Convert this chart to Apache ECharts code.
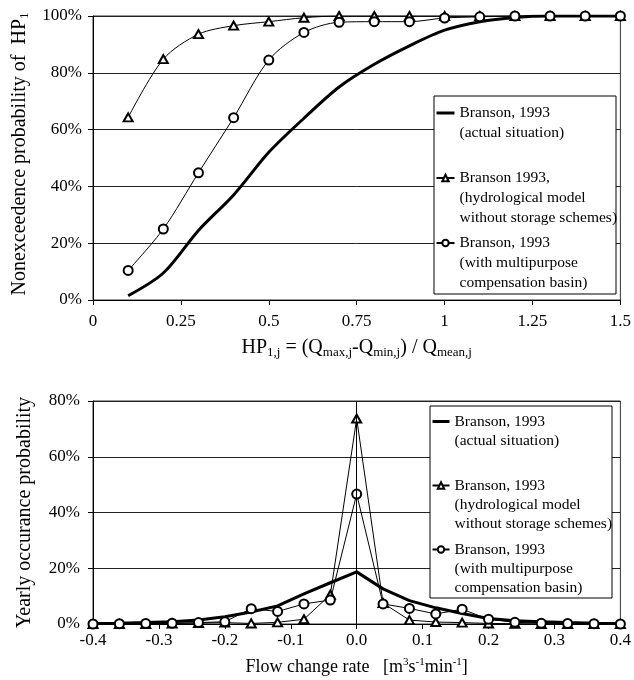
<!DOCTYPE html>
<html><head><meta charset="utf-8">
<script src="https://cdn.jsdelivr.net/npm/echarts@6/dist/echarts.min.js"></script>
<style>html,body{margin:0;padding:0;background:#fff}#c{width:634px;height:680px}</style>
</head><body><div id="c"></div>
<script>
// ---- Top chart data (HP1 nonexceedence) ----
const topX = [0.1,0.2,0.3,0.4,0.5,0.6,0.7,0.8,0.9,1.0,1.1,1.2,1.3,1.4,1.5];
const topActual = [1.5,9.5,24.5,37,52,64,75,83,89.5,95,98,99.5,100,100,100];
const topHydro  = [64.3,84.8,93.6,96.6,98,99.4,100,100,100,100,100,100,100,100,100];
const topComp   = [10.4,25,44.8,64.2,84.5,94.2,97.8,98,98,99.3,99.7,100,100,100,100];
const topXTicks = [0,0.25,0.5,0.75,1,1.25,1.5];
// ---- Bottom chart data (flow change rate) ----
const botX = [-0.4,-0.36,-0.32,-0.28,-0.24,-0.2,-0.16,-0.12,-0.08,-0.04,0,0.04,0.08,0.12,0.16,0.2,0.24,0.28,0.32,0.36,0.4];
const botActual = [0.2,0.3,0.5,0.8,1.4,2.6,4.3,6.5,10.8,14.8,18.7,12.6,8.4,5.8,3.8,2.0,1.2,0.8,0.5,0.3,0.2];
const botHydro  = [0,0,0,0.2,0.3,0.5,0.2,0.6,1.7,10.5,73.7,7.5,1.4,0.7,0.5,0.2,0.1,0,0,0,0];
const botComp   = [0,0.1,0.2,0.3,0.5,0.8,5.5,4.5,7.2,8.6,46.6,7.2,5.6,3.6,5.3,1.7,0.6,0.3,0.2,0.1,0];

const legendTop = {
  'A1':'\n\nBranson, 1993\n(actual situation)\n',
  'B1':'\n\nBranson 1993,\n(hydrological model\nwithout storage schemes)',
  'C1':'\n\nBranson, 1993\n(with multipurpose\ncompensation basin)'
};
const legendBot = {
  'A2':'\n\nBranson, 1993\n(actual situation)\n',
  'B2':'\n\nBranson, 1993\n(hydrological model\nwithout storage schemes)',
  'C2':'\n\nBranson, 1993\n(with multipurpose\ncompensation basin)'
};

const FONT = 'Liberation Serif';
const zip = (xs, ys) => xs.map((x, i) => [x, ys[i]]);

const richName = {
  n: {fontFamily: FONT, fontSize: 20, color: '#000'},
  s: {fontFamily: FONT, fontSize: 13, color: '#000', padding: [10, 0, 0, 0]},
  p: {fontFamily: FONT, fontSize: 11, color: '#000', padding: [0, 0, 9, 0]}
};
const labelStyle = {fontFamily: FONT, fontSize: 17, color: '#000'};
const hiddenSym = {opacity: 0, color: 'transparent', borderWidth: 0};

const chart = echarts.init(document.getElementById('c'), null, {renderer: 'canvas'});
const option = {
  backgroundColor: '#fff',
  animation: false,
  grid: [
    {left: 93, top: 16, width: 528, height: 284, show: true, borderColor: '#333', borderWidth: 1},
    {left: 93, top: 401, width: 528, height: 223, show: true, borderColor: '#333', borderWidth: 1}
  ],
  xAxis: [
    {gridIndex: 0, type: 'value', min: 0, max: 1.5, interval: 0.25,
     axisLine: {lineStyle: {color: '#000', width: 1}},
     axisTick: {show: true, length: 5, lineStyle: {color: '#000'}},
     axisLabel: Object.assign({margin: 13}, labelStyle),
     splitLine: {show: false},
     name: '{n|HP}{s|1,j}{n| = (Q}{s|max,j}{n|-Q}{s|min,j}{n|) / Q}{s|mean,j}',
     nameLocation: 'middle', nameGap: 36,
     nameTextStyle: {rich: richName}
    },
    {gridIndex: 1, type: 'value', min: -0.4, max: 0.4, interval: 0.1,
     axisLine: {onZero: false, lineStyle: {color: '#000', width: 1}},
     axisTick: {show: true, length: 5, lineStyle: {color: '#000'}},
     axisLabel: Object.assign({margin: 8, formatter: v => v.toFixed(1)}, labelStyle),
     splitLine: {show: false},
     name: '{m|Flow change rate   [m}{p|3}{m|s}{p|-1}{m|min}{p|-1}{m|]}',
     nameLocation: 'middle', nameGap: 33,
     nameTextStyle: {rich: Object.assign({m: {fontFamily: FONT, fontSize: 18, color: '#000'}}, richName)}
    }
  ],
  yAxis: [
    {gridIndex: 0, type: 'value', min: 0, max: 100, interval: 20,
     axisLine: {show: true, lineStyle: {color: '#000', width: 1}},
     axisTick: {show: true, length: 5, lineStyle: {color: '#000'}},
     axisLabel: Object.assign({margin: 11, formatter: '{value}%'}, labelStyle),
     splitLine: {show: true, lineStyle: {color: '#222', width: 1}},
     name: '{n|Nonexceedence probability of  HP}{s|1}',
     nameLocation: 'middle', nameGap: 59, nameRotate: 90,
     nameTextStyle: {rich: richName, padding: [0, 0, 0, 8]}
    },
    {gridIndex: 1, type: 'value', min: 0, max: 80, interval: 20,
     axisLine: {show: true, onZero: false, lineStyle: {color: '#000', width: 1}},
     axisTick: {show: true, length: 5, lineStyle: {color: '#000'}},
     axisLabel: Object.assign({margin: 13, formatter: '{value}%'}, labelStyle),
     splitLine: {show: true, lineStyle: {color: '#222', width: 1}},
     name: 'Yearly occurance probability',
     nameLocation: 'middle', nameGap: 58, nameRotate: 90,
     nameTextStyle: {fontFamily: FONT, fontSize: 20, color: '#000'}
    }
  ],
  graphic: [
    {type: 'rect', z: 50, shape: {x: 434, y: 96, width: 182, height: 198},
     style: {fill: '#fff', stroke: '#000', lineWidth: 1}},
    {type: 'rect', z: 50, shape: {x: 430, y: 406, width: 182, height: 192},
     style: {fill: '#fff', stroke: '#000', lineWidth: 1}}
  ],
  legend: [
    {data: [{name: 'A1', itemStyle: hiddenSym, lineStyle: {width: 3, color: '#000'}}, 'B1', 'C1'],
     orient: 'vertical', left: 435, top: 63, padding: 0,
     itemGap: -35, itemWidth: 18, itemHeight: 8, z: 60, selectedMode: false,
     formatter: n => legendTop[n],
     textStyle: {fontFamily: FONT, fontSize: 15.5, lineHeight: 20, color: '#000'}},
    {data: [{name: 'A2', itemStyle: hiddenSym, lineStyle: {width: 3, color: '#000'}}, 'B2', 'C2'],
     orient: 'vertical', left: 431, top: 374, padding: 0,
     itemGap: -31, itemWidth: 17, itemHeight: 8, z: 60, selectedMode: false,
     formatter: n => legendBot[n],
     textStyle: {fontFamily: FONT, fontSize: 15.5, lineHeight: 19, color: '#000'}}
  ],
  series: [
    {name: 'A1', type: 'line', xAxisIndex: 0, yAxisIndex: 0, data: zip(topX, topActual),
     symbol: 'none', smooth: 0.3,
     lineStyle: {color: '#000', width: 3}, itemStyle: {color: '#000'}},
    {name: 'B1', type: 'line', xAxisIndex: 0, yAxisIndex: 0, data: zip(topX, topHydro),
     symbol: 'emptyTriangle', symbolSize: [9, 8], smooth: 0.3,
     lineStyle: {color: '#000', width: 1}, itemStyle: {color: '#000', borderWidth: 1}},
    {name: 'C1', type: 'line', xAxisIndex: 0, yAxisIndex: 0, data: zip(topX, topComp),
     symbol: 'emptyCircle', symbolSize: 9, smooth: 0.3,
     lineStyle: {color: '#000', width: 1}, itemStyle: {color: '#000', borderWidth: 1}},
    {name: 'A2', type: 'line', xAxisIndex: 1, yAxisIndex: 1, data: zip(botX, botActual),
     symbol: 'none', lineStyle: {color: '#000', width: 3}, itemStyle: {color: '#000'},
     markLine: {silent: true, symbol: 'none', label: {show: false},
       lineStyle: {color: '#000', width: 1, type: 'solid'}, data: [{xAxis: 0}]}},
    {name: 'B2', type: 'line', xAxisIndex: 1, yAxisIndex: 1, data: zip(botX, botHydro),
     symbol: 'emptyTriangle', symbolSize: [9, 8],
     lineStyle: {color: '#000', width: 1}, itemStyle: {color: '#000', borderWidth: 1}},
    {name: 'C2', type: 'line', xAxisIndex: 1, yAxisIndex: 1, data: zip(botX, botComp),
     symbol: 'emptyCircle', symbolSize: 9,
     lineStyle: {color: '#000', width: 1}, itemStyle: {color: '#000', borderWidth: 1}}
  ]
};
chart.setOption(option);
</script></body></html>
